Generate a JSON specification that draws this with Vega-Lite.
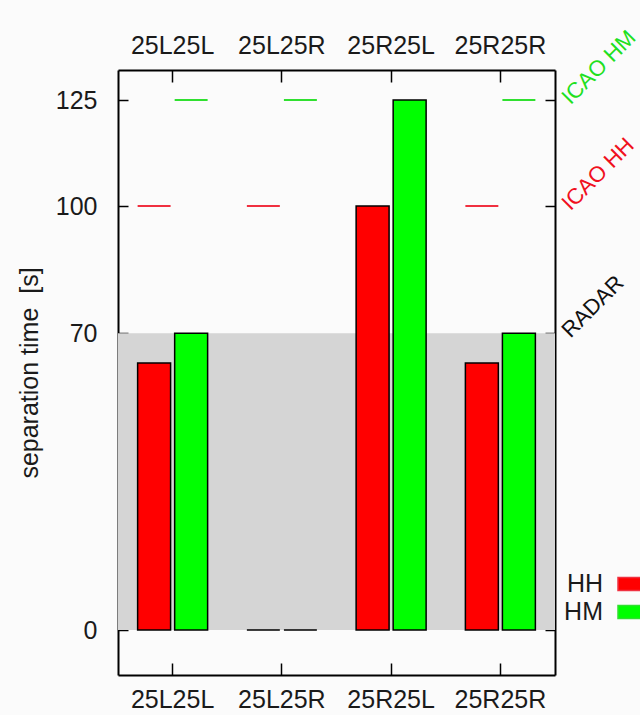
{
  "$schema": "https://vega.github.io/schema/vega-lite/v6.json",
  "width": 437,
  "height": 605,
  "autosize": {"type": "none"},
  "padding": {"left": 118, "top": 70, "right": 85, "bottom": 40},
  "background": "#fbfbfb",
  "config": {
    "view": {"stroke": null},
    "font": "Liberation Sans",
    "axis": {
      "grid": false,
      "zindex": 1,
      "domainColor": "#000000",
      "domainWidth": 2,
      "tickColor": "#000000",
      "tickWidth": 1.5,
      "labelFont": "Liberation Sans",
      "labelFontSize": 25,
      "labelColor": "#1a1a1a",
      "titleFont": "Liberation Sans",
      "titleFontSize": 25,
      "titleFontWeight": "normal",
      "titleColor": "#1a1a1a"
    }
  },
  "datasets": {
    "radar": [{"lo": 0, "hi": 70}],
    "bars": [
      {"pair": "25L25L", "type": "HH", "sep": 63},
      {"pair": "25L25L", "type": "HM", "sep": 70},
      {"pair": "25L25R", "type": "HH", "sep": 0},
      {"pair": "25L25R", "type": "HM", "sep": 0},
      {"pair": "25R25L", "type": "HH", "sep": 100},
      {"pair": "25R25L", "type": "HM", "sep": 125},
      {"pair": "25R25R", "type": "HH", "sep": 63},
      {"pair": "25R25R", "type": "HM", "sep": 70}
    ],
    "icao": [
      {"pair": "25L25L", "type": "HH", "sep": 100},
      {"pair": "25L25L", "type": "HM", "sep": 125},
      {"pair": "25L25R", "type": "HH", "sep": 100},
      {"pair": "25L25R", "type": "HM", "sep": 125},
      {"pair": "25R25R", "type": "HH", "sep": 100},
      {"pair": "25R25R", "type": "HM", "sep": 125}
    ]
  },
  "layer": [
    {
      "data": {"name": "radar"},
      "mark": {"type": "rect", "color": "#d5d5d5"},
      "encoding": {
        "y": {
          "field": "lo",
          "type": "quantitative",
          "scale": {"domain": [-10.6, 132.1], "nice": false, "zero": false},
          "axis": null
        },
        "y2": {"field": "hi"}
      }
    },
    {
      "data": {"name": "bars"},
      "mark": {"type": "bar", "stroke": "#000000", "strokeWidth": 1.5},
      "encoding": {
        "x": {
          "field": "pair",
          "type": "nominal",
          "sort": null,
          "scale": {"paddingInner": 0, "paddingOuter": 0},
          "axis": {
            "orient": "bottom",
            "title": null,
            "labelAngle": 0,
            "tickSize": -12,
            "labelPadding": 24
          }
        },
        "xOffset": {
          "field": "type",
          "type": "nominal",
          "scale": {"paddingInner": 0.11, "paddingOuter": 0.53}
        },
        "y": {
          "field": "sep",
          "type": "quantitative",
          "scale": {"domain": [-10.6, 132.1], "nice": false, "zero": false},
          "axis": {
            "orient": "left",
            "title": "separation time \u00a0[s]",
            "values": [0, 70, 100, 125],
            "tickSize": -10,
            "labelPadding": 31,
            "titlePadding": 13
          }
        },
        "color": {
          "field": "type",
          "type": "nominal",
          "scale": {"domain": ["HH", "HM"], "range": ["#ff0000", "#00ff00"]},
          "legend": {
            "title": null,
            "orient": "none",
            "legendX": 499,
            "legendY": 499,
            "padding": 0,
            "symbolType": "M-1,-0.46H1V0.46H-1Z",
            "symbolSize": 784,
            "symbolStrokeColor": "#000000",
            "symbolStrokeWidth": 1.5,
            "symbolOpacity": 1,
            "labelFont": "Liberation Sans",
            "labelFontSize": 25,
            "labelColor": "#1a1a1a",
            "labelAlign": "right",
            "labelOffset": -44,
            "rowPadding": 0
          }
        }
      }
    },
    {
      "data": {"name": "icao"},
      "mark": {"type": "bar", "fillOpacity": 0, "strokeWidth": 2},
      "encoding": {
        "x": {
          "field": "pair",
          "type": "nominal",
          "sort": null,
          "scale": {"paddingInner": 0, "paddingOuter": 0},
          "axis": {
            "orient": "top",
            "title": null,
            "labelAngle": 0,
            "tickSize": -12,
            "labelPadding": 24
          }
        },
        "xOffset": {
          "field": "type",
          "type": "nominal",
          "scale": {"paddingInner": 0.11, "paddingOuter": 0.53}
        },
        "y": {
          "field": "sep",
          "type": "quantitative",
          "scale": {"domain": [-10.6, 132.1], "nice": false, "zero": false},
          "axis": {
            "orient": "right",
            "title": null,
            "values": [0, 70, 100, 125],
            "tickSize": -10,
            "labelPadding": 20,
            "labelAngle": -45,
            "labelAlign": "left",
            "labelBaseline": "middle",
            "labelFontSize": 22,
            "labelExpr": "datum.value == 125 ? 'ICAO HM' : datum.value == 100 ? 'ICAO HH' : datum.value == 70 ? 'RADAR' : ''",
            "labelColor": {
              "condition": [
                {"test": "datum.value == 125", "value": "#1fe01f"},
                {"test": "datum.value == 100", "value": "#f01020"}
              ],
              "value": "#111111"
            }
          }
        },
        "y2": {"field": "sep"},
        "stroke": {
          "field": "type",
          "type": "nominal",
          "scale": {"domain": ["HH", "HM"], "range": ["#f03040", "#30e030"]},
          "legend": null
        }
      }
    }
  ],
  "resolve": {"axis": {"x": "independent", "y": "independent"}}
}
